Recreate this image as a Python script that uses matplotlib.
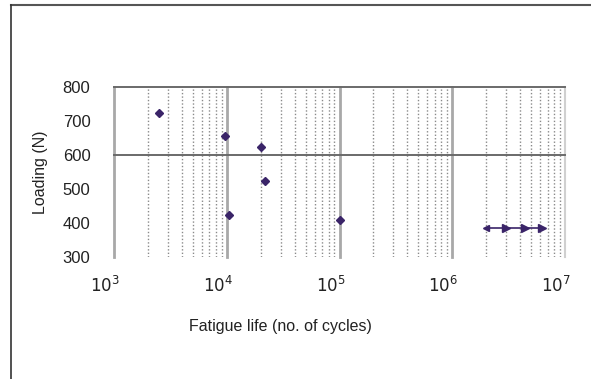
import matplotlib.pyplot as plt
from matplotlib.lines import Line2D
import matplotlib.transforms as mtransforms
import numpy as np

# data
cycles = [2500, 9700, 10400, 20000, 22000, 101000]
loads = [725, 655, 425, 625, 525, 408]
runout_cycles = [2.0e6, 3.0e6, 4.4e6, 6.3e6]
runout_loads = [385, 385, 385, 385]
y_ticks = [300, 400, 500, 600, 700, 800]
x_ticks = [1e3, 1e4, 1e5, 1e6, 1e7]

plt.rcParams['font.family'] = 'Liberation Sans'
mark = '#3a2468'

fig = plt.figure(figsize=(5.91, 3.79), dpi=100)
ax = fig.add_axes([0.193, 0.322, 0.763, 0.448])
ax.set_xscale('log')
ax.set_xlim(1e3, 1e7)
ax.set_ylim(300, 800)

# grid: decades solid, sub-decades dotted
for d in range(3, 7):
    for m in range(2, 10):
        ax.axvline(m * 10**d, color='#8a8a8a', lw=1.0, ls=(0, (1, 1.5)), zorder=1)
for x in x_ticks[:-1]:
    ax.axvline(x, color='#a8a8a8', lw=2, zorder=1, clip_on=False)
ax.axvline(1e7, color='#d0d0d0', lw=1.5, zorder=1, clip_on=False)
for y in [600, 800]:
    ax.axhline(y, color='#6a6a6a', lw=1.4, zorder=2, clip_on=False)

ax.plot(cycles, loads, 'D', color=mark, ms=4, zorder=3)
ax.plot(runout_cycles, runout_loads, '-', color=mark, lw=1.2, zorder=3)
ax.plot(runout_cycles[:1], runout_loads[:1], '<', color=mark, ms=4, zorder=3)
ax.plot(runout_cycles[1:], runout_loads[1:], '>', color=mark, ms=6, zorder=3)

for s in ax.spines.values():
    s.set_visible(False)
ax.set_yticks(y_ticks)
ax.set_xticks(x_ticks)
ax.set_xticklabels(['$10^{%d}$' % int(np.log10(x)) for x in x_ticks])
ax.minorticks_off()
ax.tick_params(length=0, labelsize=12, colors='#222222')
ax.tick_params(axis='x', pad=13)
ax.tick_params(axis='y', pad=17)
shift = mtransforms.ScaledTranslation(-9 / 100, 0, fig.dpi_scale_trans)
for lab in ax.get_xticklabels():
    lab.set_transform(lab.get_transform() + shift)

fig.text(280 / 591, 1 - 326 / 379, 'Fatigue life (no. of cycles)', ha='center', va='center',
         fontsize=11.5, color='#222222')
fig.text(41 / 591, 1 - 172 / 379, 'Loading (N)', ha='center', va='center', rotation=90,
         fontsize=11.5, color='#222222')

# frame lines at top and left
fig.add_artist(Line2D([11 / 591, 1], [1 - 5 / 379, 1 - 5 / 379], color='#555555', lw=1.5))
fig.add_artist(Line2D([11 / 591, 11 / 591], [0, 1 - 5 / 379], color='#333333', lw=1.2))

fig.savefig('out.png', dpi=100)
